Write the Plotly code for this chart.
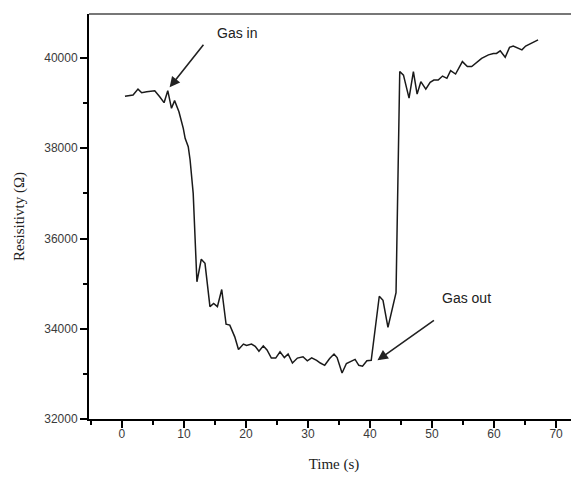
import plotly.graph_objects as go

time_s = [0.5, 1.3, 1.8, 2.6, 3.2, 4.0, 5.3, 6.1, 6.8, 7.4,
          8.0, 8.5, 9.2, 9.9, 10.2, 10.7, 11.0, 11.5, 12.1, 12.8,
          13.4, 14.2, 14.8, 15.4, 16.1, 16.8, 17.4, 18.2, 18.8, 19.6,
          20.1, 20.9, 21.5, 22.1, 22.8, 23.4, 24.1, 24.8, 25.5, 26.2,
          26.8, 27.5, 28.3, 29.2, 29.9, 30.6, 31.4, 32.0, 32.7, 33.5,
          34.2, 34.7, 35.5, 36.2, 36.9, 37.6, 38.2, 38.8, 39.5, 40.2,
          41.5, 42.1, 42.9, 44.2, 44.8, 45.4, 46.3, 47.0, 47.6, 48.2,
          49.0, 49.7, 50.3, 51.0, 51.7, 52.4, 53.0, 53.8, 54.9, 55.7,
          56.4, 57.3, 58.0, 59.1, 59.9, 60.4, 61.0, 61.8, 62.5, 63.1,
          64.5, 65.1, 67.1]

resistivity = [39150, 39160, 39180, 39310, 39230, 39250, 39275, 39140, 39010, 39275,
               38885, 39055, 38810, 38440, 38220, 38035, 37740, 37000, 35040, 35540,
               35450, 34490, 34560, 34490, 34870, 34100, 34080, 33820, 33540, 33660,
               33630, 33660, 33610, 33500, 33620, 33530, 33350, 33350, 33490, 33360,
               33440, 33240, 33350, 33380, 33290, 33355, 33300, 33240, 33190, 33340,
               33440, 33360, 33020, 33230, 33270, 33320, 33190, 33170, 33290, 33300,
               34720, 34630, 34030, 34800, 39700, 39620, 39110, 39700, 39200, 39475,
               39310, 39460, 39510, 39510, 39600, 39550, 39720, 39645, 39920, 39810,
               39810, 39920, 39990, 40070, 40100, 40100, 40160, 40015, 40235, 40265,
               40180, 40265, 40400]

x_ticks = [0, 10, 20, 30, 40, 50, 60, 70]
x_ticktext = ["0", "10", "20", "30", "40", "50", "60", "70"]
y_ticks = [32000, 34000, 36000, 38000, 40000]
y_ticktext = ["32000", "34000", "36000", "38000", "40000"]

# annotation anchors (data units)
gas_in_tip = (7.7, 39350)
gas_in_label = (18.5, 40555)
gas_out_tip = (41.2, 33300)
gas_out_label = (55.5, 34680)

fig = go.Figure()
fig.add_trace(go.Scatter(x=time_s, y=resistivity, mode="lines",
                         line=dict(color="#1a1a1a", width=1.5), showlegend=False))

tickfont = dict(family="Liberation Sans, Arial", size=12, color="#3a3a3a")
titlefont = dict(family="Liberation Serif, Times New Roman", size=15, color="#222")
fig.update_xaxes(range=[-5.3, 73.7], tickmode="array", tickvals=x_ticks, ticktext=x_ticktext,
                 showline=True, linecolor="black", linewidth=2,
                 ticks="outside", ticklen=7, tickwidth=2, tickcolor="black",
                 minor=dict(dtick=5, tick0=0, ticks="outside", ticklen=4, tickwidth=2, tickcolor="black"),
                 showgrid=False, zeroline=False, tickfont=tickfont, automargin=False,
                 ticklabelstandoff=-4,
                 title=dict(text="Time (s)", font=titlefont, standoff=18))
fig.update_yaxes(range=[32000, 40975], tickmode="array", tickvals=y_ticks, ticktext=y_ticktext,
                 showline=True, linecolor="black", linewidth=2,
                 ticks="outside", ticklen=7, tickwidth=2, tickcolor="black",
                 minor=dict(dtick=1000, tick0=0, ticks="outside", ticklen=4, tickwidth=2, tickcolor="black"),
                 showgrid=False, zeroline=False, tickfont=tickfont, automargin=False,
                 title=dict(text="Resisitivty (Ω)", font=titlefont, standoff=16))

fig.add_shape(type="line", xref="paper", yref="paper", x0=0, x1=1, y0=1, y1=1,
              line=dict(color="#777777", width=2))

annfont = dict(family="Liberation Sans, Arial", size=14, color="#222")
fig.add_annotation(x=gas_in_label[0], y=gas_in_label[1], text="Gas in", showarrow=False, font=annfont)
fig.add_annotation(x=gas_out_label[0], y=gas_out_label[1], text="Gas out", showarrow=False, font=annfont)
fig.add_annotation(x=gas_in_tip[0], y=gas_in_tip[1], text="", showarrow=True, ax=35, ay=-44,
                   arrowhead=2, arrowsize=1.3, arrowwidth=1.6, arrowcolor="#222")
fig.add_annotation(x=gas_out_tip[0], y=gas_out_tip[1], text="", showarrow=True, ax=58, ay=-41,
                   arrowhead=2, arrowsize=1.3, arrowwidth=1.6, arrowcolor="#222")

# page body has an 8px default margin, so the figure is sized to fit the window
fig.update_layout(width=571, height=472, margin=dict(l=81, r=0, t=6, b=61),
                  plot_bgcolor="white", paper_bgcolor="white")

fig.write_html("out.html")
